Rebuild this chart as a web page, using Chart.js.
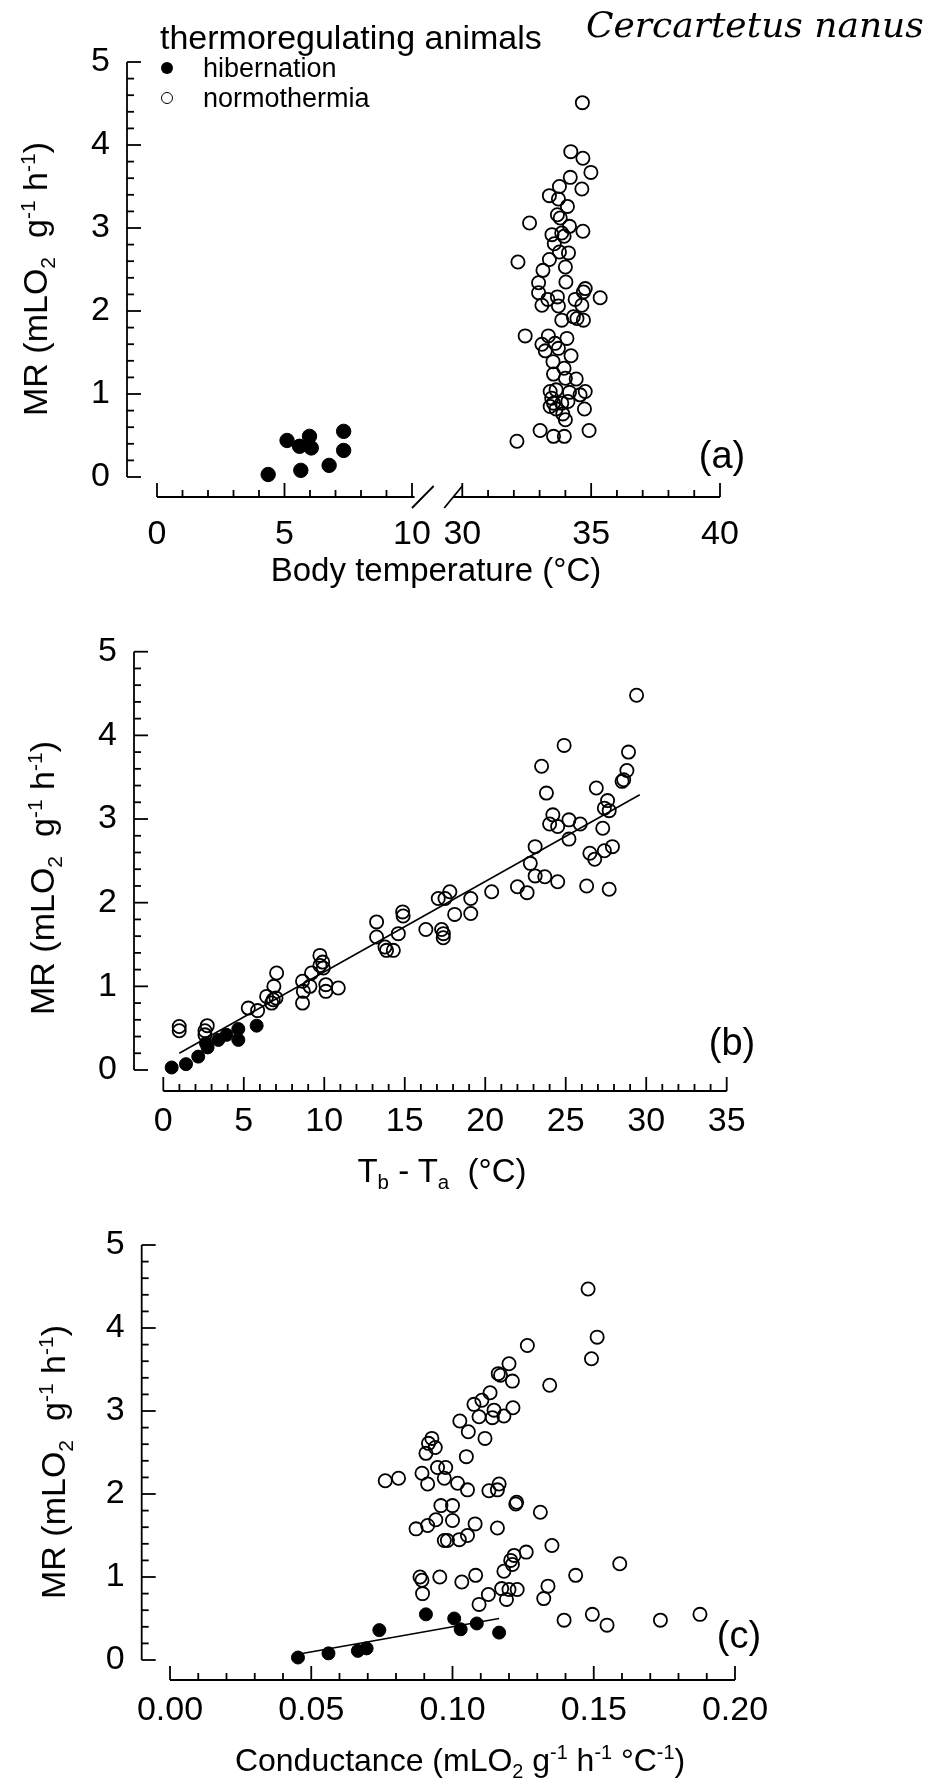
<!DOCTYPE html>
<html>
<head>
<meta charset="utf-8">
<title>Cercartetus nanus – metabolic rate</title>
<script src="https://cdn.jsdelivr.net/npm/chart.js@4.4.1/dist/chart.umd.min.js"></script>
<style>
  html, body { margin:0; padding:0; background:#fff; }
  #fig { position:relative; width:942px; height:1791px; overflow:hidden; background:#fff;
         font-family:'Liberation Sans', Arial, Helvetica, sans-serif; color:#000; }
  #fig canvas { position:absolute; left:0; }
  .txt { position:absolute; white-space:nowrap; line-height:1; }
  .ctr { transform: translate(-50%, -50%); }
  .rot { transform: translate(-50%, -50%) rotate(-90deg); }
  .mk { position:absolute; border-radius:50%; box-sizing:border-box; }
  sub, sup { font-size:0.62em; line-height:0; }
</style>
</head>
<body>
<div id="fig">
  <canvas id="cA1" width="942" height="620" style="top:0px"></canvas>
  <canvas id="cA2" width="942" height="620" style="top:0px"></canvas>
  <canvas id="cB" width="942" height="600" style="top:600px"></canvas>
  <canvas id="cC" width="942" height="601" style="top:1190px"></canvas>

  <div class="txt" style="left:160px; top:20px; font-size:34px;">thermoregulating animals</div>
  <div class="mk" style="left:161px; top:62px; width:12px; height:12px; background:#000;"></div>
  <div class="txt" style="left:203px; top:55px; font-size:27px;">hibernation</div>
  <div class="mk" style="left:161px; top:92px; width:12px; height:12px; border:1.6px solid #000;"></div>
  <div class="txt" style="left:203px; top:85px; font-size:27px;">normothermia</div>
  <div class="txt" style="left:586px; top:7px; font-size:36px; font-family:'DejaVu Serif', 'Liberation Serif', serif; font-style:italic;">Cercartetus nanus</div>

  <div class="txt rot" style="left:35px; top:279px; font-size:34px;">MR (mLO<sub>2</sub>&nbsp;&nbsp;g<sup>-1</sup> h<sup>-1</sup>)</div>
  <div class="txt rot" style="left:42px; top:878px; font-size:34px;">MR (mLO<sub>2</sub>&nbsp;&nbsp;g<sup>-1</sup> h<sup>-1</sup>)</div>
  <div class="txt rot" style="left:53px; top:1462px; font-size:34px;">MR (mLO<sub>2</sub>&nbsp;&nbsp;g<sup>-1</sup> h<sup>-1</sup>)</div>

  <div class="txt ctr" style="left:436px; top:569px; font-size:33px;">Body temperature (°C)</div>
  <div class="txt ctr" style="left:442px; top:1170px; font-size:33px;">T<sub>b</sub> - T<sub>a</sub>&nbsp;&nbsp;(°C)</div>
  <div class="txt ctr" style="left:460px; top:1760px; font-size:32px;">Conductance (mLO<sub>2</sub> g<sup>-1</sup> h<sup>-1</sup> °C<sup>-1</sup>)</div>

  <div class="txt ctr" style="left:722px; top:455px; font-size:38px;">(a)</div>
  <div class="txt ctr" style="left:732px; top:1042px; font-size:38px;">(b)</div>
  <div class="txt ctr" style="left:739px; top:1635px; font-size:38px;">(c)</div>
</div>

<script>
// ---------------- DATA ----------------
// (a) Body temperature (°C) vs MR
const tempHibX = [4.36, 5.10, 5.98, 5.59, 6.05, 5.64, 6.75, 7.32, 7.32];
const tempHibY = [0.03, 0.44, 0.49, 0.37, 0.35, 0.08, 0.14, 0.55, 0.32];
const tempNormX = [
  34.66, 34.21, 34.68, 34.99, 34.19, 34.64, 33.77, 33.38, 33.73, 34.08,
  33.69, 33.80, 32.61, 34.16, 34.68, 33.48, 33.86, 33.95, 33.57, 33.77,
  34.12, 33.38, 32.16, 34.00, 33.13, 32.96, 34.02, 34.77, 34.70, 32.96,
  33.69, 33.32, 34.38, 35.35, 33.09, 33.73, 34.64, 33.86, 34.31, 34.70,
  34.45, 32.44, 33.34, 33.09, 33.60, 34.06, 33.22, 33.73, 34.22, 33.52,
  33.95, 33.54, 34.00, 34.42, 33.41, 33.64, 34.77, 34.57, 33.47, 34.16,
  33.54, 33.86, 34.10, 33.41, 33.64, 33.90, 34.74, 34.00, 33.02, 33.54,
  33.96, 34.92, 32.12];
const tempNormY = [
  4.51, 3.92, 3.84, 3.67, 3.61, 3.47, 3.50, 3.39, 3.35, 3.26,
  3.16, 3.12, 3.06, 3.02, 2.96, 2.92, 2.94, 2.90, 2.81, 2.71,
  2.70, 2.62, 2.59, 2.53, 2.49, 2.34, 2.35, 2.27, 2.23, 2.22,
  2.17, 2.14, 2.14, 2.16, 2.07, 2.06, 2.07, 1.89, 1.93, 1.89,
  1.91, 1.70, 1.70, 1.60, 1.61, 1.67, 1.52, 1.55, 1.46, 1.39,
  1.31, 1.24, 1.19, 1.18, 1.03, 1.05, 1.03, 0.99, 0.95, 1.02,
  0.89, 0.89, 0.91, 0.85, 0.82, 0.76, 0.82, 0.69, 0.56, 0.49,
  0.49, 0.56, 0.43];

// (b) Tb - Ta (°C) vs MR
const diffHibX = [0.52, 1.41, 2.17, 2.65, 2.75, 3.42, 3.93, 4.66, 4.66, 5.80];
const diffHibY = [0.03, 0.07, 0.16, 0.32, 0.27, 0.36, 0.42, 0.49, 0.36, 0.53];
const diffNormX = [
  0.99, 0.99, 2.73, 2.59, 2.59, 5.28, 5.86, 6.42, 6.83, 7.00,
  6.87, 7.04, 6.73, 8.65, 8.65, 8.70, 9.11, 9.21, 9.73, 9.90,
  9.94, 9.73, 10.10, 10.10, 10.87, 13.25, 13.25, 13.77, 14.29, 13.87,
  14.60, 14.87, 14.90, 16.31, 17.29, 17.39, 17.40, 17.08, 17.50, 17.80,
  18.10, 19.10, 19.10, 20.40, 22.00, 22.60, 22.80, 23.10, 23.10, 23.70,
  24.50, 23.50, 23.80, 24.90, 24.20, 24.00, 24.50, 25.20, 25.20, 25.90,
  26.30, 26.50, 26.80, 26.90, 27.30, 27.40, 27.60, 27.40, 27.70, 27.90,
  27.70, 28.50, 28.60, 28.80, 28.90, 29.40];
const diffNormY = [
  0.52, 0.47, 0.53, 0.47, 0.42, 0.74, 0.71, 0.88, 0.84, 0.86,
  1.00, 1.16, 0.80, 1.06, 0.80, 0.94, 1.00, 1.16, 1.37, 1.29,
  1.22, 1.25, 1.02, 0.94, 0.98, 1.77, 1.59, 1.47, 1.43, 1.43,
  1.63, 1.89, 1.84, 1.68, 1.68, 1.58, 1.63, 2.05, 2.05, 2.13,
  1.86, 2.05, 1.87, 2.13, 2.19, 2.12, 2.47, 2.32, 2.67, 2.31,
  2.25, 3.63, 3.31, 3.88, 3.05, 2.94, 2.91, 2.99, 2.76, 2.94,
  2.20, 2.59, 2.52, 3.37, 2.89, 2.62, 3.22, 3.13, 3.10, 2.67,
  2.16, 3.45, 3.47, 3.58, 3.80, 4.48];
const diffFitX = [0.99, 29.6];
const diffFitY = [0.20, 3.29];

// (c) Conductance vs MR
const condHibX = [0.0453, 0.0561, 0.0665, 0.0696, 0.0741, 0.0906, 0.1006, 0.1029, 0.1086, 0.1165];
const condHibY = [0.03, 0.08, 0.11, 0.14, 0.36, 0.55, 0.50, 0.37, 0.44, 0.33];
const condNormX = [
  0.1265, 0.1200, 0.1162, 0.1170, 0.1212, 0.1133, 0.1104, 0.1076, 0.1147, 0.1182,
  0.1214, 0.1141, 0.1094, 0.1026, 0.1056, 0.1115, 0.0927, 0.0915, 0.0939, 0.0906,
  0.1049, 0.0947, 0.0976, 0.0892, 0.0762, 0.0809, 0.0971, 0.0912, 0.1018, 0.1053,
  0.1129, 0.1165, 0.1159, 0.1224, 0.1227, 0.0959, 0.1000, 0.0941, 0.1000, 0.0912,
  0.0871, 0.1080, 0.1159, 0.0971, 0.0982, 0.1024, 0.1053, 0.1261, 0.1218, 0.1206,
  0.1212, 0.1182, 0.0885, 0.0892, 0.0955, 0.1082, 0.1033, 0.0894, 0.1174, 0.1200,
  0.1229, 0.1191, 0.1127, 0.1094, 0.1480, 0.1512, 0.1492, 0.1344, 0.1311, 0.1352,
  0.1592, 0.1436, 0.1338, 0.1323, 0.1395, 0.1495, 0.1547, 0.1736, 0.1876];
const condNormY = [
  3.79, 3.57, 3.45, 3.43, 3.36, 3.22, 3.13, 3.08, 3.01, 2.94,
  3.04, 2.92, 2.93, 2.88, 2.75, 2.67, 2.67, 2.61, 2.56, 2.49,
  2.45, 2.32, 2.32, 2.25, 2.16, 2.19, 2.19, 2.12, 2.13, 2.05,
  2.04, 2.12, 2.05, 1.88, 1.90, 1.86, 1.86, 1.69, 1.68, 1.62,
  1.58, 1.64, 1.59, 1.44, 1.44, 1.45, 1.50, 1.30, 1.26, 1.20,
  1.15, 1.07, 1.00, 0.96, 1.00, 1.02, 0.94, 0.80, 0.86, 0.85,
  0.85, 0.73, 0.79, 0.67, 4.47, 3.89, 3.63, 3.31, 1.78, 1.38,
  1.16, 1.02, 0.89, 0.74, 0.48, 0.55, 0.42, 0.48, 0.55];
const condFitX = [0.0453, 0.1165];
const condFitY = [0.07, 0.50];

// tick labels
const yTicks = [0, 1, 2, 3, 4, 5];
const tempTicksLow = [0, 5, 10];
const tempTicksHigh = [30, 35, 40];
const diffTicks = [0, 5, 10, 15, 20, 25, 30, 35];
const condTicks = [0.00, 0.05, 0.10, 0.15, 0.20];

// ---------------- RENDERING ----------------
const FONT = "'Liberation Sans', Arial, Helvetica, sans-serif";
const TICK_SIZE = 34;
const pts = (xs, ys) => xs.map((x, i) => ({ x: x, y: ys[i] }));

function openSet(xs, ys, r) {
  return { data: pts(xs, ys), pointStyle: 'circle', pointRadius: r, pointBorderWidth: 1.8,
           pointBorderColor: '#000', pointBackgroundColor: 'rgba(0,0,0,0)', showLine: false, order: 2 };
}
function filledSet(xs, ys, r) {
  return { data: pts(xs, ys), pointStyle: 'circle', pointRadius: r, pointBorderWidth: 1,
           pointBorderColor: '#000', pointBackgroundColor: '#000', showLine: false, order: 1 };
}
function fitSet(xs, ys) {
  return { data: pts(xs, ys), showLine: true, borderColor: '#000', borderWidth: 1.6,
           pointRadius: 0, fill: false, order: 0 };
}

// Draws SigmaPlot-style offset axes with inward ticks, using the chart's own scales
const sigmaAxes = {
  id: 'sigmaAxes',
  afterDatasetsDraw(chart, args, o) {
    const ctx = chart.ctx, ca = chart.chartArea, xs = chart.scales.x, ys = chart.scales.y;
    ctx.save();
    ctx.strokeStyle = '#000';
    ctx.lineWidth = 1.8;
    const seg = (x1, y1, x2, y2) => { ctx.beginPath(); ctx.moveTo(x1, y1); ctx.lineTo(x2, y2); ctx.stroke(); };
    const steps = (a, b, s) => { const n = Math.round((b - a) / s), r = []; for (let i = 0; i <= n; i++) r.push(a + i * s); return r; };
    const major = (v, m) => Math.abs(v / m - Math.round(v / m)) < 1e-6;
    if (o.y) {
      const L = ca.left;
      seg(L, ys.getPixelForValue(o.y.from), L, ys.getPixelForValue(o.y.to));
      for (const v of steps(o.y.from, o.y.to, o.y.minor)) {
        const p = ys.getPixelForValue(v);
        seg(L, p, L + (major(v, o.y.major) ? 14 : 7), p);
      }
    }
    if (o.x) {
      const B = ca.bottom;
      for (const s of o.x.segments) seg(xs.getPixelForValue(s[0]), B, xs.getPixelForValue(s[1]), B);
      for (const v of steps(o.x.from, o.x.to, o.x.minor)) {
        const p = xs.getPixelForValue(v);
        seg(p, B, p, B - (major(v, o.x.major) ? 14 : 7));
      }
      for (const s of (o.x.slashes || [])) seg(xs.getPixelForValue(s[0]), B + 11, xs.getPixelForValue(s[1]), B - 11);
    }
    ctx.restore();
  }
};

// pixel geometry -> axis range
function rangeFromPixels(pLeft, pRight, v0, p0, v1, p1) {
  const k = (v1 - v0) / (p1 - p0);
  return [v0 + (pLeft - p0) * k, v0 + (pRight - p0) * k];
}

function makePanel(id, g) {
  const canvas = document.getElementById(id);
  const ch = canvas.height;
  const [xMin, xMax] = rangeFromPixels(g.left, g.right, g.xv0, g.xp0, g.xv1, g.xp1);
  const [yMin, yMax] = rangeFromPixels(g.bottom, g.top, 0, g.y0, 5, g.y5);
  return new Chart(canvas, {
    type: 'scatter',
    data: { datasets: g.datasets },
    options: {
      responsive: false, animation: false, devicePixelRatio: 1, events: [],
      layout: { padding: { left: g.showY ? 0 : g.left, right: 942 - g.right, top: g.top, bottom: 0 } },
      plugins: { legend: { display: false }, tooltip: { enabled: false }, sigmaAxes: g.axes },
      scales: {
        x: {
          type: 'linear', min: xMin, max: xMax,
          grid: { display: false, drawTicks: false }, border: { display: false },
          afterBuildTicks: s => { s.ticks = g.xTicks.map(v => ({ value: v })); },
          afterFit: s => { s.height = ch - g.bottom; },
          ticks: { color: '#000', font: { family: FONT, size: TICK_SIZE }, padding: g.xPad,
                   maxRotation: 0, autoSkip: false, callback: v => g.fmt(v) }
        },
        y: {
          type: 'linear', display: g.showY, min: yMin, max: yMax,
          grid: { display: false, drawTicks: false }, border: { display: false },
          afterBuildTicks: s => { s.ticks = yTicks.map(v => ({ value: v })); },
          afterFit: s => { if (g.showY) s.width = g.left; },
          ticks: { color: '#000', font: { family: FONT, size: TICK_SIZE }, padding: 17, callback: v => String(v) }
        }
      }
    },
    plugins: [sigmaAxes]
  });
}

const yAxisOpts = { from: 0, to: 5, minor: 0.2, major: 1 };

// Panel (a) – left part of broken axis (0–10)
makePanel('cA1', {
  showY: true, left: 127, right: 437, top: 62, bottom: 497, y0: 477, y5: 62,
  xv0: 0, xp0: 157, xv1: 10, xp1: 412, xTicks: tempTicksLow, fmt: v => String(v), xPad: 17,
  datasets: [filledSet(tempHibX, tempHibY, 7.2)],
  axes: { y: yAxisOpts, x: { segments: [[0, 10.1]], from: 0, to: 10, minor: 1, major: 5, slashes: [[10.0, 10.85]] } }
});
// Panel (a) – right part of broken axis (30–40)
makePanel('cA2', {
  showY: false, left: 437, right: 720, top: 62, bottom: 497, y0: 477, y5: 62,
  xv0: 30, xp0: 462.3, xv1: 40, xp1: 720, xTicks: tempTicksHigh, fmt: v => String(v), xPad: 17,
  datasets: [openSet(tempNormX, tempNormY, 6.6)],
  axes: { x: { segments: [[29.65, 40]], from: 30, to: 40, minor: 1, major: 5, slashes: [[29.3, 30.0]] } }
});
// Panel (b)
makePanel('cB', {
  showY: true, left: 134, right: 726.7, top: 51.7, bottom: 491, y0: 470, y5: 51.7,
  xv0: 0, xp0: 163.3, xv1: 35, xp1: 726.7, xTicks: diffTicks, fmt: v => String(v), xPad: 10,
  datasets: [fitSet(diffFitX, diffFitY), filledSet(diffHibX, diffHibY, 6.5), openSet(diffNormX, diffNormY, 6.6)],
  axes: { y: yAxisOpts, x: { segments: [[0, 35]], from: 0, to: 35, minor: 1, major: 5 } }
});
// Panel (c)
makePanel('cC', {
  showY: true, left: 141.7, right: 735, top: 55, bottom: 490, y0: 470, y5: 55,
  xv0: 0, xp0: 170, xv1: 0.2, xp1: 735, xTicks: condTicks, fmt: v => v.toFixed(2), xPad: 10,
  datasets: [fitSet(condFitX, condFitY), filledSet(condHibX, condHibY, 6.5), openSet(condNormX, condNormY, 6.6)],
  axes: { y: yAxisOpts, x: { segments: [[0, 0.2]], from: 0, to: 0.2, minor: 0.01, major: 0.05 } }
});
</script>
</body>
</html>
